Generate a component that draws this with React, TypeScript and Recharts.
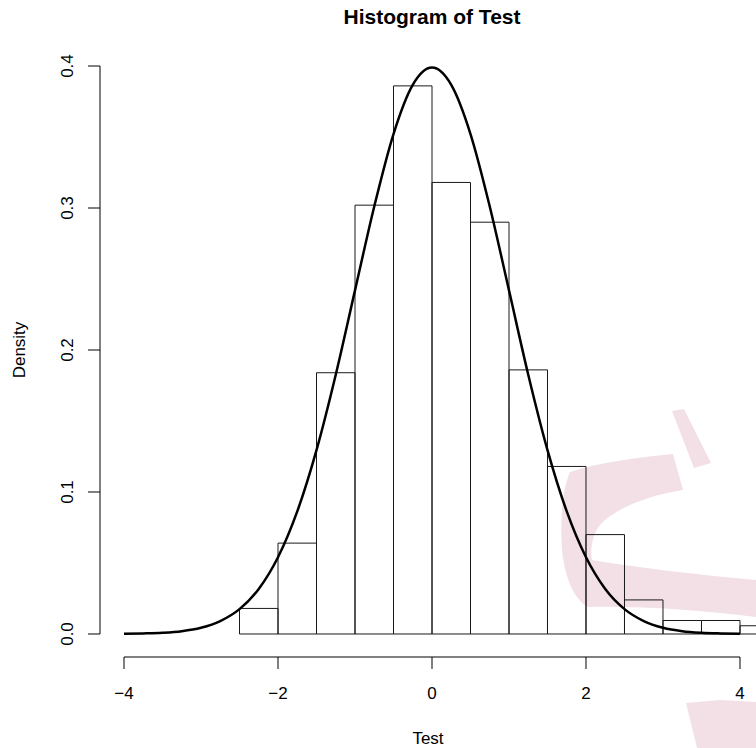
import React from "react";
import {
  ComposedChart,
  Line,
  XAxis,
  YAxis,
  ReferenceArea,
  ReferenceLine,
} from "recharts";

// histogram bins (left edges) and their densities
const binStarts = [-2.5, -2, -1.5, -1, -0.5, 0, 0.5, 1, 1.5, 2, 2.5, 3, 3.5, 4];
const binWidth = 0.5;
const densities = [
  0.018, 0.064, 0.184, 0.302, 0.386, 0.318, 0.29, 0.186, 0.118, 0.07, 0.024,
  0.0095, 0.0095, 0.0058,
];

// the smooth density curve drawn over the bars
const curveX = [
  -4, -3.75, -3.5, -3.25, -3, -2.75, -2.5, -2.25, -2, -1.75, -1.5, -1.25, -1,
  -0.75, -0.5, -0.25, 0, 0.25, 0.5, 0.75, 1, 1.25, 1.5, 1.75, 2, 2.25, 2.5,
  2.75, 3, 3.25, 3.5, 3.75, 4,
];
const curveY = [
  0.0001, 0.0004, 0.0009, 0.002, 0.0044, 0.0091, 0.0175, 0.0317, 0.054, 0.0863,
  0.1295, 0.1826, 0.242, 0.3011, 0.3521, 0.3867, 0.3989, 0.3867, 0.3521,
  0.3011, 0.242, 0.1826, 0.1295, 0.0863, 0.054, 0.0317, 0.0175, 0.0091, 0.0044,
  0.002, 0.0009, 0.0004, 0.0001,
];

const xTicks = [-4, -2, 0, 2, 4];
const yTicks = [0, 0.1, 0.2, 0.3, 0.4];

// R-style plot region (axes are detached from the data area)
const xMin = -4.3117;
const xMax = 4.2078;
const yMin = -0.0162;
const yMax = 0.4162;

const FONT = '"Liberation Sans", Arial, Helvetica, sans-serif';

const curveData = curveX.map((x, i) => ({ x, y: curveY[i] }));

function YTick(props: any) {
  const { x, y, payload } = props;
  return (
    <text
      x={x}
      y={y}
      transform={`rotate(-90, ${x}, ${y})`}
      textAnchor="middle"
      fontSize={17}
      fill="#000"
    >
      {Number(payload.value).toFixed(1)}
    </text>
  );
}

export default function App() {
  return (
    <div
      style={{
        position: "absolute",
        left: 0,
        top: 0,
        width: 756,
        height: 748,
        background: "#fff",
        fontFamily: FONT,
        overflow: "hidden",
      }}
    >
      <svg
        width={756}
        height={748}
        style={{ position: "absolute", left: 0, top: 0 }}
      >
        <g fill="#f2e0e6">
          <polygon points="672,411 684,409 711,463 694,468" />
          <path d="M 570 472 C 600 462, 640 457, 673 454 L 683 490 C 650 495, 615 508, 600 525 C 592 535, 590 550, 592 560 C 640 568, 700 575, 756 580 L 756 617 C 700 610, 640 606, 588 607 C 575 600, 565 580, 562 550 C 560 520, 562 490, 570 472 Z" />
          <polygon points="686,703 720,700 756,702 756,748 697,748" />
        </g>
        <text
          x={432}
          y={24}
          textAnchor="middle"
          fontSize={21}
          fontWeight="bold"
          fontFamily={FONT}
          fill="#000"
        >
          Histogram of Test
        </text>
      </svg>
      <div style={{ position: "absolute", left: 0, top: 0 }}>
        <ComposedChart
          width={756}
          height={748}
          data={curveData}
          margin={{ top: 43, right: 0, bottom: 0, left: 0 }}
        >
          <XAxis
            type="number"
            dataKey="x"
            domain={[xMin, xMax]}
            allowDataOverflow
            ticks={xTicks}
            interval={0}
            height={91}
            axisLine={false}
            tickLine={{ stroke: "#000" }}
            tickSize={12}
            tickMargin={18}
            tick={{ fill: "#000", fontSize: 17 }}
            tickFormatter={(v: number) => String(v).replace("-", "\u2212")}
            label={{
              value: "Test",
              position: "insideBottom",
              offset: 4,
              fill: "#000",
              fontSize: 17,
            }}
          />
          <YAxis
            type="number"
            domain={[yMin, yMax]}
            allowDataOverflow
            ticks={yTicks}
            interval={0}
            width={100}
            axisLine={false}
            tickLine={{ stroke: "#000" }}
            tickSize={12}
            tickMargin={15}
            tick={<YTick />}
            label={{
              value: "Density",
              angle: -90,
              position: "insideLeft",
              offset: 19,
              fill: "#000",
              fontSize: 17,
              style: { textAnchor: "middle" },
            }}
          />
          {binStarts.map((b, i) => (
            <ReferenceArea
              key={b}
              x1={b}
              x2={b + binWidth}
              y1={0}
              y2={densities[i]}
              fill="none"
              fillOpacity={0}
              stroke="#1a1a1a"
              strokeWidth={1}
              strokeOpacity={1}
              ifOverflow="visible"
            />
          ))}
          <ReferenceLine
            segment={[
              { x: xMin, y: 0 },
              { x: xMin, y: 0.4 },
            ]}
            stroke="#000"
            strokeWidth={1}
            ifOverflow="visible"
          />
          <ReferenceLine
            segment={[
              { x: -4, y: yMin },
              { x: 4, y: yMin },
            ]}
            stroke="#000"
            strokeWidth={1}
            ifOverflow="visible"
          />
          <Line
            type="monotone"
            dataKey="y"
            stroke="#000"
            strokeWidth={2.5}
            dot={false}
            activeDot={false}
            isAnimationActive={false}
          />
        </ComposedChart>
      </div>
    </div>
  );
}
